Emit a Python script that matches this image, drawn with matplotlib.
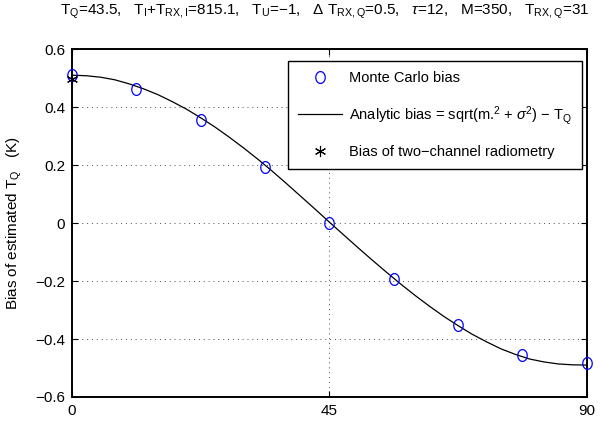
import numpy as np
import matplotlib
matplotlib.use('Agg')
import matplotlib.pyplot as plt
from matplotlib.path import Path

plt.rcParams['font.family'] = ['Liberation Sans', 'DejaVu Sans']
plt.rcParams['mathtext.fontset'] = 'custom'
plt.rcParams['mathtext.rm'] = 'Liberation Sans'
plt.rcParams['mathtext.it'] = 'Liberation Sans:italic'
plt.rcParams['mathtext.sf'] = 'Liberation Sans'

# angles (deg) and bias values
mc_angle = [0, 11.25, 22.5, 33.75, 45, 56.25, 67.5, 78.75, 90]
mc_bias = [0.511, 0.464, 0.356, 0.195, 0.0, -0.192, -0.353, -0.455, -0.483]

curve_angle = [0, 2.5, 5, 7.5, 10, 12.5, 15, 17.5, 20, 22.5, 25, 27.5, 30, 32.5,
               35, 37.5, 40, 42.5, 45, 47.5, 50, 52.5, 55, 57.5, 60, 62.5, 65,
               67.5, 70, 72.5, 75, 77.5, 80, 82.5, 85, 87.5, 90]
curve_bias = [0.510, 0.508, 0.503, 0.494, 0.480, 0.463, 0.443, 0.419, 0.393,
              0.363, 0.331, 0.296, 0.259, 0.220, 0.179, 0.136, 0.092, 0.048,
              0.003, -0.041, -0.085, -0.128, -0.170, -0.211, -0.250, -0.287,
              -0.322, -0.354, -0.384, -0.410, -0.434, -0.453, -0.469, -0.479,
              -0.486, -0.489, -0.490]

two_ch_angle = [0]
two_ch_bias = [0.497]

xticks = [0, 45, 90]
yticks = [-0.6, -0.4, -0.2, 0, 0.2, 0.4, 0.6]

# slightly tall ellipse like matlab's 'o'
t = np.linspace(0, 2 * np.pi, 40)
ell = Path(np.column_stack([0.8 * np.cos(t), np.sin(t)]))

fig = plt.figure(figsize=(6, 4.29), dpi=100)
ax = fig.add_axes([0.12, 0.0746, 0.858, 0.811])

ax.plot(mc_angle, mc_bias, linestyle='none', marker=ell, markersize=8.5,
        markerfacecolor='none', markeredgecolor='#0000ff', markeredgewidth=0.9,
        label='Monte Carlo bias', zorder=3, clip_on=False)
ax.plot(curve_angle, curve_bias, color='black', lw=0.9,
        label=r'Analytic bias = sqrt(m.$^2$ + $\sigma^2$) $-$ T$_\mathrm{Q}$')
ax.plot(two_ch_angle, two_ch_bias, linestyle='none', marker=(6, 2, 0), markersize=8,
        color='black', markeredgewidth=0.8, clip_on=False,
        label='Bias of two\u2212channel radiometry', zorder=4)

ax.set_xlim(0, 90)
ax.set_ylim(-0.6, 0.6)
ax.set_xticks(xticks)
ax.set_yticks(yticks)
ax.set_yticklabels(['\u22120.6', '\u22120.4', '\u22120.2', '0', '0.2', '0.4', '0.6'])
ax.tick_params(direction='in', length=4, width=0.8, labelsize=11,
               top=True, right=True, pad=5)
ax.grid(True, linestyle=(0, (1, 4)), color='black', lw=0.7, alpha=0.7)
for s in ax.spines.values():
    s.set_linewidth(1.4)

ax.set_ylabel(r'Bias of estimated T$_\mathrm{Q}$   (K)', fontsize=11, labelpad=8)

fig.text(0.1, 0.972,
         r'T$_\mathrm{Q}$=43.5,   T$_\mathrm{I}$+T$_\mathrm{RX,I}$=815.1,   T$_\mathrm{U}$=$-$1,   '
         r'$\Delta$ T$_\mathrm{RX,Q}$=0.5,   $\tau$=12,   M=350,   T$_\mathrm{RX,Q}$=31',
         fontsize=11, ha='left', va='center')

leg = ax.legend(loc='upper right', bbox_to_anchor=(0.99, 0.965), fontsize=10.5,
                fancybox=False, edgecolor='black', framealpha=1,
                handlelength=3.0, borderpad=0.7, labelspacing=1.25,
                handletextpad=0.45, borderaxespad=0.0)
leg.get_frame().set_linewidth(1.0)

fig.savefig('out.png', dpi=100)
